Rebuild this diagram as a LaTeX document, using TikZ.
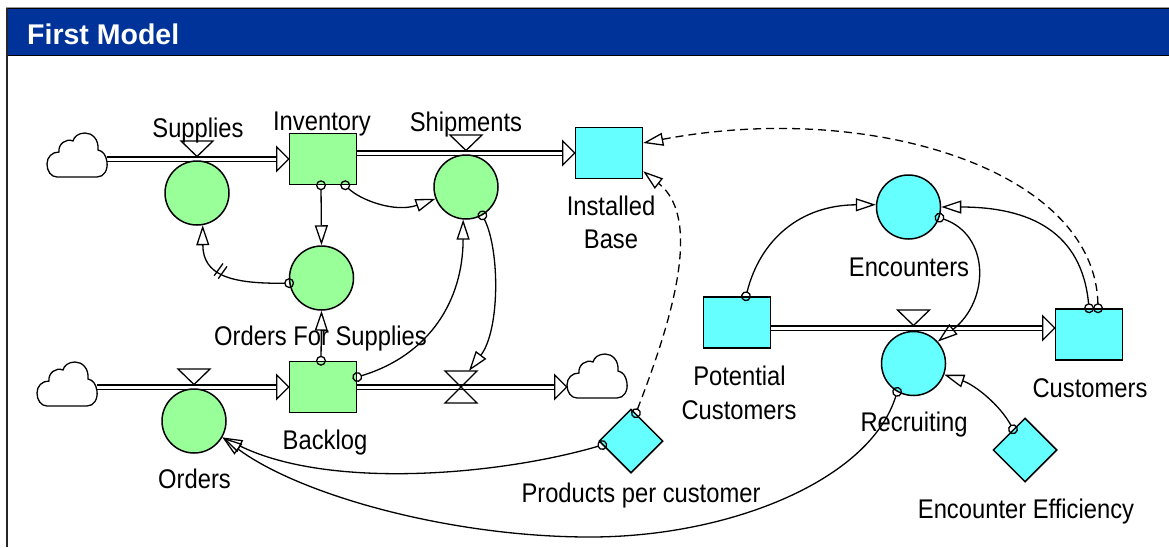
\documentclass[tikz,border=0pt]{standalone}
\usepackage{fontspec}
\setmainfont{Liberation Sans}
\newfontfamily\lblfont[FakeStretch=0.88]{Liberation Sans}
\usetikzlibrary{arrows.meta,shapes.geometric,decorations.markings}
\definecolor{stockgreen}{HTML}{99FF99}
\definecolor{aqua}{HTML}{66FFFF}
\definecolor{barblue}{HTML}{003399}
\begin{document}
\begin{tikzpicture}[x=1pt,y=-1pt,
  stockg/.style={draw, line width=1.5pt, fill=stockgreen, rectangle, minimum width=67pt, minimum height=51pt, inner sep=0pt},
  stockc/.style={stockg, fill=aqua},
  auxg/.style={draw, line width=1.5pt, fill=stockgreen, circle, minimum size=64pt, inner sep=0pt},
  auxc/.style={auxg, fill=aqua},
  constc/.style={draw, line width=1.5pt, fill=aqua, diamond, minimum width=64pt, minimum height=64pt, inner sep=0pt},
  lbl/.style={font=\lblfont\fontsize{27}{33}\selectfont, anchor=base, inner sep=0pt},
  pipe/.style={line width=1.2pt, double=white, double distance=3pt},
  link/.style={line width=1.3pt, {Circle[open,length=10pt,width=10pt]}-{Triangle[open,length=20pt,width=13pt]}, shorten <=-5pt},
  dlink/.style={link, dash pattern=on 8pt off 5pt},
  cloudpic/.pic={
    \draw[line width=1.3pt, fill=white] (-20,22) -- (20,22)
      .. controls (27,22) and (31,15) .. (30,7)
      .. controls (29,0) and (26,-4) .. (21,-5)
      .. controls (22,-16) and (15,-22) .. (8,-22)
      .. controls (1,-22) and (-3,-18) .. (-4,-14)
      .. controls (-11,-17) and (-19,-11) .. (-18,-3)
      .. controls (-25,-3) and (-30,2) .. (-30,9)
      .. controls (-30,16) and (-26,22) .. (-20,22) -- cycle;
  },
  valvetop/.pic={\draw[line width=1.3pt] (0,-2.5) -- (-16,-18) -- (16,-18) -- cycle;},
  bowtie/.pic={\draw[line width=1.3pt] (-16,-16) -- (16,-16) -- (-16,16) -- (16,16) -- cycle;},
  pipetip/.pic={\draw[line width=1.3pt, fill=white] (0,0) -- (-12,-12) -- (-12,12) -- cycle;}
]
\useasboundingbox (0,0) rectangle (1169,547);
\fill[white] (0,0) rectangle (1169,547);
% frame and title bar
\draw[line width=1pt, black!40] (6,7) -- (1169,7);
\draw[line width=1pt, fill=barblue, draw=black] (7,8.5) rectangle (1175,55.5);
\draw[line width=2pt, black!85] (7,8) -- (7,547);
\node[anchor=base west, inner sep=0pt, text=white, font=\fontsize{28.5}{30}\selectfont\bfseries] (title) at (27,44.5) {First Model};

% clouds (sources and sinks)
\node[minimum width=60pt, minimum height=44pt, inner sep=0pt] (c1) at (77,155) {};
\node[minimum width=60pt, minimum height=44pt, inner sep=0pt] (c2) at (67,384) {};
\node[minimum width=60pt, minimum height=44pt, inner sep=0pt] (c3) at (597,376) {};
\coordinate (rpipe) at (913,328);

% stocks
\node[stockg] (inv) at (323,159) {};
\node[stockg] (bkl) at (323,387) {};
\node[stockc] (ib) at (609,153) {};
\node[stockc] (pc) at (737,322.5) {};
\node[stockc] (cust) at (1089,334.5) {};

% pipes
\draw[pipe] (c1.east |- inv.west) -- ([xshift=-12pt]inv.west);
\draw[pipe] (inv.east |- ib.west) -- ([xshift=-12pt]ib.west);
\draw[pipe] (c2.east |- bkl.west) -- ([xshift=-12pt]bkl.west);
\draw[pipe] (bkl.east) -- ([xshift=-12pt]c3.west |- bkl.east);
\draw[pipe] (pc.east |- rpipe) -- ([xshift=-12pt]cust.west |- rpipe);
\pic at (inv.west) {pipetip};
\pic at (ib.west) {pipetip};
\pic at (bkl.west) {pipetip};
\pic at (c3.west |- bkl.east) {pipetip};
\pic at (cust.west |- rpipe) {pipetip};

\pic at (c1) {cloudpic};
\pic at (c2) {cloudpic};
\pic at (c3) {cloudpic};

% auxiliaries / rates
\node[auxg] (sup) at (197,193) {};
\node[auxg] (ofs) at (321.5,278) {};
\node[auxg] (shp) at (466,187) {};
\node[auxg] (ord) at (194,421) {};
\node[auxc] (enc) at (908.5,207) {};
\node[auxc] (rec) at (913.5,363.5) {};
\node[constc] (ppc) at (631,441) {};
\node[constc] (ee) at (1025,450) {};
\node[minimum size=32pt, inner sep=0pt] (valve) at (461,387) {};

% labels
\node[lbl] (lsup) at (198,137) {Supplies};
\node[lbl] (linv) at (322,130) {Inventory};
\node[lbl] (lshp) at (466,131) {Shipments};
\node[lbl] (lib1) at (611,215) {Installed};
\node[lbl] (lib2) at (611,248) {Base};
\node[lbl] (lofs) at (320.5,345) {Orders For Supplies};
\node[lbl] (lbkl) at (325,449) {Backlog};
\node[lbl] (lord) at (194.5,488) {Orders};
\node[lbl] (lppc) at (641,502) {Products per customer};
\node[lbl] (lpc1) at (739.5,385) {Potential};
\node[lbl] (lpc2) at (739,419) {Customers};
\node[lbl] (lenc) at (909,276) {Encounters};
\node[lbl] (lcust) at (1090,397) {Customers};
\node[lbl] (lrec) at (914,431) {Recruiting};
\node[lbl] (lee) at (1026,518) {Encounter Efficiency};

% valves
\pic at (sup |- inv.west) {valvetop};
\pic at (shp |- ib.west) {valvetop};
\pic at (ord |- bkl.west) {valvetop};
\pic at (rec |- rpipe) {valvetop};
\pic at (valve) {bowtie};

% information links
\draw[link] ([xshift=-2pt]inv.south) -- (ofs.north);
\draw[link] ([xshift=-12pt]inv.south east) .. controls (360,200) and (395,213) .. (shp.201);
\draw[link, postaction={decorate}, decoration={markings, mark=at position 0.58 with {\draw[line width=1.3pt, -, solid, shorten <=0pt] (-2.5,-7.5) -- (-2.5,7.5) (2.5,-7.5) -- (2.5,7.5);}}] (ofs.189) .. controls (230,284) and (203,275) .. (sup.-80);
\draw[link] ([xshift=-2pt]bkl.north) -- (ofs.south);
\draw[link] ([yshift=10pt]bkl.east) .. controls (430,355) and (463,300) .. (shp.-95);
\draw[link] (shp.-60) .. controls (500,250) and (500,330) .. ([xshift=8pt]valve.north);
\draw[dlink] (ppc.80) .. controls (668,330) and (705,220) .. ([yshift=8pt]ib.south east);
\draw[dlink] ([xshift=9pt]cust.north) .. controls (1095,170) and (870,100) .. ([yshift=10pt]ib.east);
\draw[link] ([xshift=9pt]pc.north) .. controls (760,240) and (800,205) .. (enc.176);
\draw[link] (cust.north) .. controls (1082,232) and (1030,207) .. (enc.east);
\draw[link] (enc.-19) .. controls (990,235) and (990,300) .. (rec.42);
\draw[link] (ee.120) .. controls (1000,405) and (975,385) .. (rec.-20);
\coordinate (low) at (590,537);
\draw[link] (rec.240) .. controls (870,480) and (730,537) .. (low) .. controls (450,537) and (300,495) .. (ord.-30);
\draw[link] (ppc.188) .. controls (500,475) and (330,490) .. (ord.-30);
\end{tikzpicture}
\end{document}
